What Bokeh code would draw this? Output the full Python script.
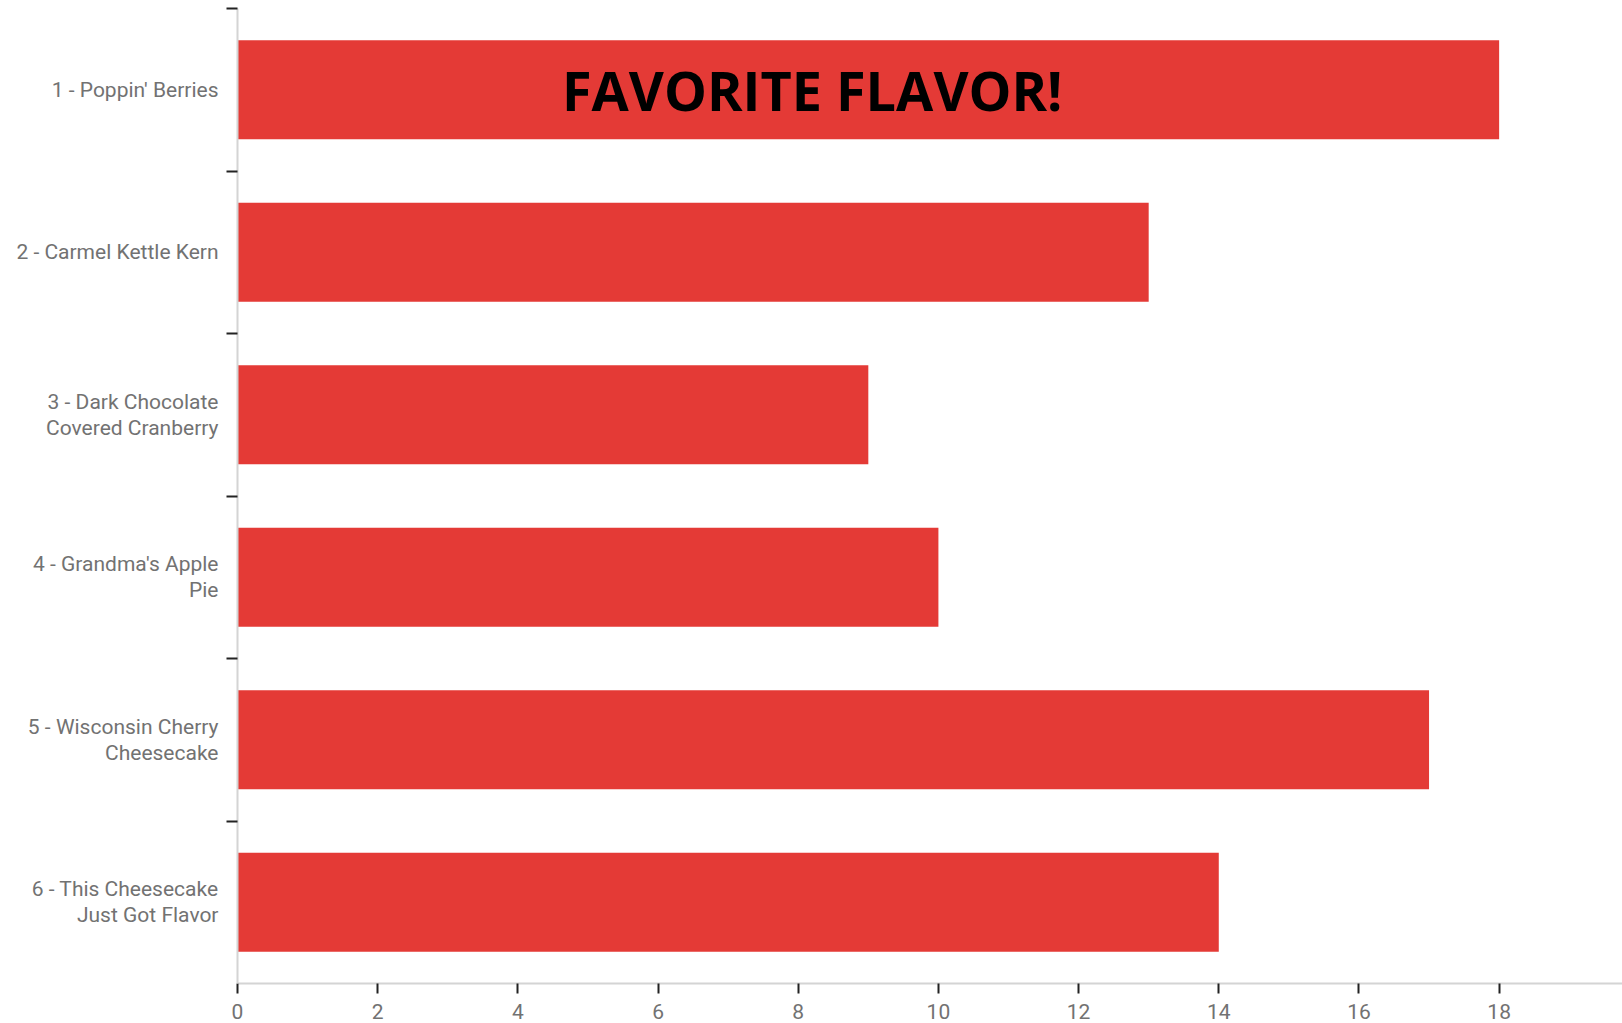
from bokeh.plotting import figure
from bokeh.models import Range1d, FixedTicker, Label, ColumnDataSource
from bokeh.embed import file_html
from bokeh.resources import INLINE

categories = [
    "1 - Poppin' Berries",
    "2 - Carmel Kettle Kern",
    "3 - Dark Chocolate\nCovered Cranberry",
    "4 - Grandma's Apple\nPie",
    "5 - Wisconsin Cherry\nCheesecake",
    "6 - This Cheesecake\nJust Got Flavor",
]
values = [18, 13, 9, 10, 17, 14]
x_ticks = [0, 2, 4, 6, 8, 10, 12, 14, 16, 18]
title_text = "FAVORITE FLAVOR!"

n = len(categories)
ypos = [i + 0.5 for i in range(n)]
boundaries = [float(i) for i in range(n)]

src = ColumnDataSource(dict(y=ypos, v=values, name=categories))

p = figure(width=1622, height=1023, output_backend="svg", toolbar_location=None,
           x_range=Range1d(0, 19.76), y_range=Range1d(n, 0),
           min_border_left=237, min_border_right=0, min_border_top=8, min_border_bottom=40)
p.outline_line_color = None
p.xgrid.visible = False
p.ygrid.visible = False

p.hbar(y="y", right="v", left=0, height=0.61, source=src,
       fill_color="#E43A36", line_color=None)

label_color = "#727272"
# x axis
xa = p.xaxis[0]
xa.ticker = FixedTicker(ticks=x_ticks, minor_ticks=[])
xa.axis_line_color = "#d4d4d4"
xa.axis_line_width = 2
xa.major_tick_line_color = "#222222"
xa.major_tick_line_width = 2
xa.major_tick_in = 0
xa.major_tick_out = 10
xa.major_label_standoff = 10
xa.major_label_text_font = "Roboto"
xa.major_label_text_font_size = "21px"
xa.major_label_text_color = label_color

# y axis: labels at centers, short ticks at boundaries (minor ticks)
ya = p.yaxis[0]
ya.ticker = FixedTicker(ticks=ypos, minor_ticks=boundaries)
ya.major_label_overrides = {yy: c for yy, c in zip(ypos, categories)}
ya.axis_line_color = "#d4d4d4"
ya.axis_line_width = 2
ya.major_tick_line_color = None
ya.major_tick_in = 0
ya.major_tick_out = 0
ya.minor_tick_line_color = "#222222"
ya.minor_tick_line_width = 2
ya.minor_tick_in = 0
ya.minor_tick_out = 11
ya.major_label_standoff = 8
ya.major_label_text_font = "Roboto"
ya.major_label_text_font_size = "21px"
ya.major_label_text_color = label_color
ya.major_label_text_line_height = 1.1

title = Label(x=8.2, y=ypos[0], text=title_text, text_font="Open Sans",
              text_font_style="bold", text_font_size="54px", text_color="black",
              text_align="center", text_baseline="middle")
p.add_layout(title)

open("out.html", "w").write(file_html(p, INLINE))
